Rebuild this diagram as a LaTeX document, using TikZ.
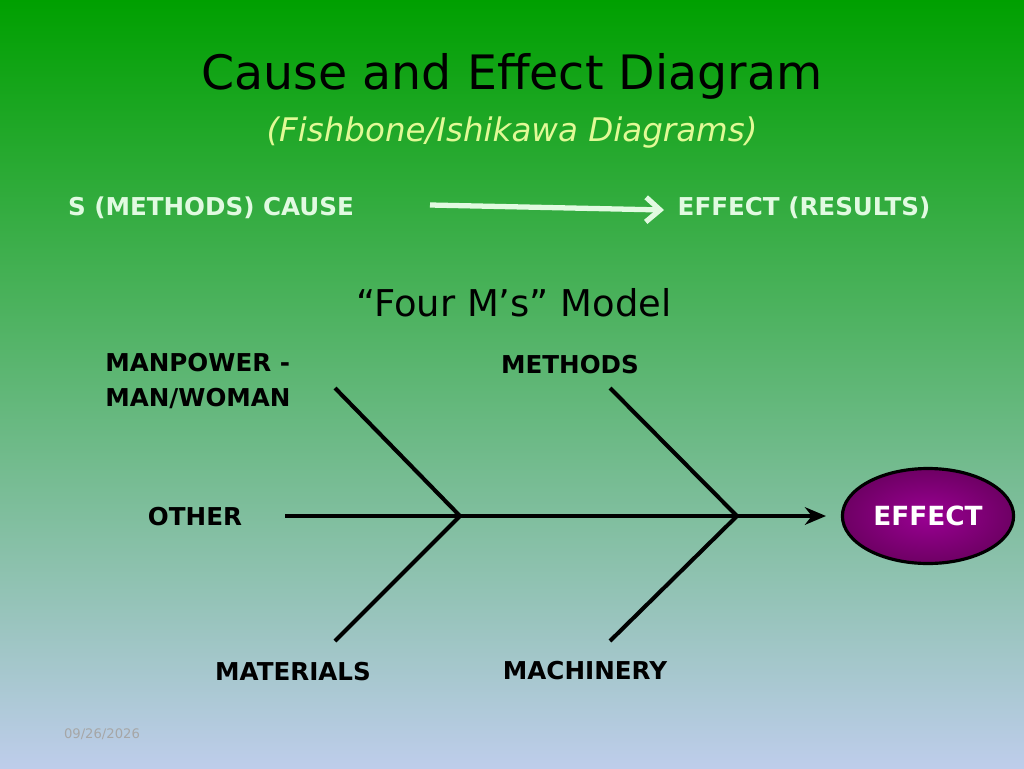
\documentclass[tikz,border=0pt]{standalone}
\usepackage{fontspec}
\setmainfont{DejaVu Sans}
\usetikzlibrary{arrows.meta, positioning, shapes.geometric}

\definecolor{topgreen}{RGB}{0,160,0}
\definecolor{midgreen}{RGB}{100,180,120}
\definecolor{bottomblue}{RGB}{190,205,235}
\definecolor{paleyellow}{RGB}{225,250,150}
\definecolor{palegreen}{RGB}{225,250,225}
\definecolor{effectpurple}{RGB}{110,0,100}

\begin{document}
\begin{tikzpicture}[
        x=0.02cm, y=-0.02cm,
        label node/.style={font=\fontsize{14}{17}\selectfont\bfseries, align=left, inner sep=0pt},
        header node/.style={font=\fontsize{14}{17}\selectfont\bfseries, text=palegreen, inner sep=0pt},
        bone/.style={line width=2.3pt, black},
        effect node/.style={draw=black, line width=1.8pt, ellipse, minimum width=160*0.02cm, minimum height=95*0.02cm,
            inner color=effectpurple!70!magenta, outer color=effectpurple, text=white,
            font=\fontsize{15}{18}\selectfont\bfseries}
    ]

    % Background
    \shade[top color=topgreen, middle color=midgreen, bottom color=bottomblue] (0,0) rectangle (1024,768);
    \useasboundingbox (0,0) rectangle (1024,768);

    % Titles
    \node[font=\fontsize{27}{32}\selectfont] (title) at (512,76) {Cause and Effect Diagram};
    \node[font=\fontsize{18.5}{22}\selectfont\itshape, text=paleyellow] (subtitle) at (512,133) {(Fishbone/Ishikawa Diagrams)};

    % Cause -> effect header
    \node[header node] (cause) at (211,208) {S (METHODS) CAUSE};
    \node[header node] (results) at (804,208) {EFFECT (RESULTS)};
    \coordinate (arrowstart) at (430,205);
    \coordinate (arrowend) at (664,210);
    \draw[line width=3pt, palegreen, -{Straight Barb[length=8pt, width=14pt, line width=3pt]}] (arrowstart) -- (arrowend);

    \node[font=\fontsize{21}{25}\selectfont] (model) at (514,303) {“Four M’s” Model};

    % Fishbone
    \node[effect node] (effect) at (928,516) {EFFECT};
    \coordinate (tail) at (285,516);
    \coordinate (head) at (826,516);
    \coordinate (joinA) at (460,516);
    \coordinate (joinB) at (737,516);
    \coordinate (manend) at (335,388);
    \coordinate (methend) at (610,388);
    \coordinate (matend) at (335,641);
    \coordinate (machend) at (610,641);
    \draw[bone, -{Stealth[length=12pt, width=10pt]}] (tail) -- (head);
    \draw[bone] (manend) -- (joinA) -- (matend);
    \draw[bone] (methend) -- (joinB) -- (machend);

    % Labels
    \node[label node, anchor=west] (manpower) at (105,381) {MANPOWER -\\[3pt]MAN/WOMAN};
    \node[label node] (methods) at (570,365) {METHODS};
    \node[label node] (other) at (195,517) {OTHER};
    \node[label node] (materials) at (293,672) {MATERIALS};
    \node[label node] (machinery) at (585,671) {MACHINERY};

    \node[font=\fontsize{7.5}{9}\selectfont, text=black!35] (date) at (102,734) {09/26/2026};
\end{tikzpicture}
\end{document}
